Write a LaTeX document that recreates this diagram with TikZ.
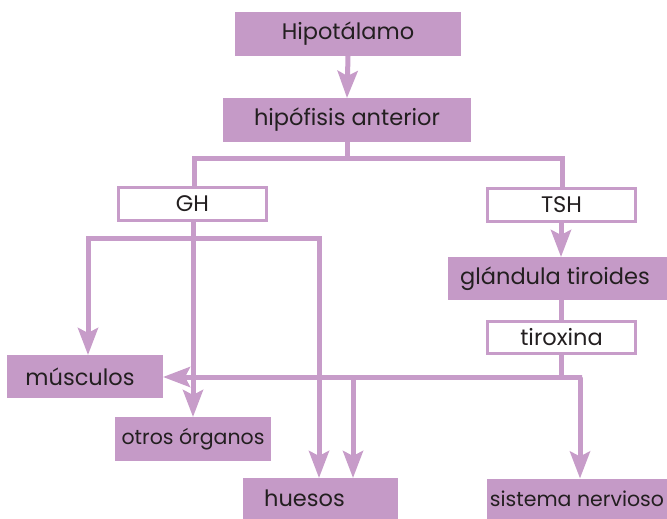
\documentclass[tikz,border=0pt]{standalone}
\usepackage{fontspec}
\setmainfont{Poppins}
\usetikzlibrary{arrows.meta}
\definecolor{pfill}{HTML}{C59AC7}
\definecolor{pline}{HTML}{C79CC9}
\definecolor{ptext}{HTML}{231F20}
\begin{document}
\begin{tikzpicture}[x=1pt,y=-1pt,
  every node/.style={inner sep=0pt,outer sep=0pt,text=ptext,font=\fontsize{22.5}{26}\selectfont},
  small/.style={font=\fontsize{20.5}{24}\selectfont},
  fbox/.style={fill=pfill,minimum width=#1},
  wbox/.style={draw=pline,line width=3pt,fill=white,minimum width=#1},
  conn/.style={draw=pline,line width=5pt},
  arr/.style={conn,-{Stealth[width=20pt,length=27pt,inset=5pt]}}
]
\useasboundingbox (0,0) rectangle (667,519);
\node[fbox=226pt,minimum height=44pt] (hipo) at (348,34) {Hipotálamo};
\node[fbox=248pt,minimum height=44pt] (hipof) at (347,120) {hipófisis anterior};
\node[wbox=148pt,minimum height=33pt] (gh) at (192.5,204) {GH};
\node[wbox=148pt,minimum height=33pt] (tsh) at (561.5,204.5) {TSH};
\node[fbox=219pt,minimum height=43pt] (gland) at (557.5,278.5) {glándula tiroides\hspace*{5pt}};
\node[wbox=148pt,minimum height=32pt] (tirox) at (561.5,337) {tiroxina};
\node[fbox=156pt,minimum height=43pt] (musc) at (85,376.5) {músculos\hspace*{10pt}};
\node[fbox=156pt,minimum height=44pt,small] (otros) at (193,439) {otros órganos};
\node[fbox=155pt,minimum height=41pt] (huesos) at (320.5,498.5) {huesos\hspace*{32pt}};
\node[fbox=180pt,minimum height=40pt,small] (sist) at (577,498.5) {sistema nervioso};

\coordinate (hb) at (347,158);
\coordinate (ghb) at (193,238);
\coordinate (tb) at (561,377);

% hipotalamo -> hipofisis
\draw[arr] (hipo.south) -- (hipof.north);
% hipofisis -> GH, TSH
\draw[conn] (hipof.south) -- (hb);
\draw[conn] (gh.north -| 194,0) |- (hb) -| (tsh.north -| 562,0);
% GH branches
\draw[conn] (gh.south -| ghb) -- (ghb);
\draw[arr] (ghb) -| (musc.north -| 88,0);
\draw[arr] (ghb) -- (otros.north -| ghb);
\draw[arr] (ghb) -| (huesos.north -| 319,0);
% TSH -> glandula -> tiroxina
\draw[arr] (tsh.south -| 561,0) -- (gland.north -| 561,0);
\draw[conn] (gland.south -| 561,0) -- (tirox.north -| 561,0);
% tiroxina branches
\draw[conn] (tirox.south -| tb) -- (tb);
\draw[arr] (tb) -- (582,377) -- (580,377) -- (sist.north -| 580,0);
\draw[arr] (tb) -- (musc.east |- tb);
\draw[arr] (353,377) -- (huesos.north -| 353,0);
\end{tikzpicture}
\end{document}
